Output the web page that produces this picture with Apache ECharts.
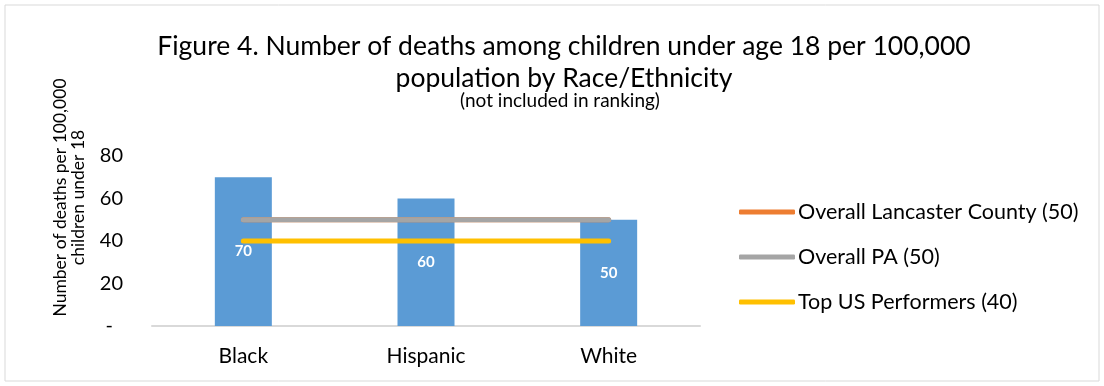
<!DOCTYPE html>
<html>
<head>
<meta charset="utf-8">
<script src="https://cdn.jsdelivr.net/npm/echarts@6/dist/echarts.min.js"></script>
<style>
  html, body { margin: 0; padding: 0; background: #fff; }
  #chart { width: 1104px; height: 386px; }
</style>
</head>
<body>
<div id="chart"></div>
<script>
// data
const categories = ['Black', 'Hispanic', 'White'];
const deathRates = [70, 60, 50];
const lancaster = [50, 50, 50];
const overallPA = [50, 50, 50];
const topUS = [40, 40, 40];
const yTicks = { min: 0, max: 80, interval: 20 };

const FONT = 'Lato, "Open Sans", sans-serif';

const myChart = echarts.init(document.getElementById('chart'));

const lineSeries = (name, data, color) => ({
  name: name,
  type: 'line',
  data: data,
  symbol: 'none',
  lineStyle: { width: 5, color: color, cap: 'round' },
  itemStyle: { color: color },
  z: 3
});

const options = {
  animation: false,
  textStyle: { fontFamily: FONT },
  graphic: [
    // outer frame
    {
      type: 'rect',
      shape: { x: 5, y: 5, width: 1094, height: 376 },
      style: { fill: 'none', stroke: '#d9d9d9', lineWidth: 1 }
    },
    {
      type: 'text', x: 564, y: 46,
      style: {
        text: 'Figure 4. Number of deaths among children under age 18 per 100,000',
        font: '26.5px ' + FONT, fill: '#000', align: 'center', verticalAlign: 'middle'
      }
    },
    {
      type: 'text', x: 564, y: 78,
      style: {
        text: 'population by Race/Ethnicity',
        font: '26.5px ' + FONT, fill: '#000', align: 'center', verticalAlign: 'middle'
      }
    },
    {
      type: 'text', x: 560, y: 101,
      style: {
        text: '(not included in ranking)',
        font: '19px ' + FONT, fill: '#000', align: 'center', verticalAlign: 'middle'
      }
    },
    // y axis name
    {
      type: 'text', x: 69.5, y: 197.5, rotation: Math.PI / 2,
      style: {
        text: 'Number of deaths per 100,000\nchildren under 18',
        font: '17.5px ' + FONT, fill: '#000', align: 'center', verticalAlign: 'middle',
        lineHeight: 17.6
      }
    }
  ],
  legend: {
    data: ['Overall Lancaster County (50)', 'Overall PA (50)', 'Top US Performers (40)'],
    orient: 'vertical',
    left: 734,
    top: 195,
    icon: 'roundRect',
    itemWidth: 56,
    itemHeight: 5,
    itemGap: 21,
    textStyle: { fontSize: 21.5, color: '#000', fontFamily: FONT, lineHeight: 24, padding: [0, 0, 0, -2] }
  },
  grid: { left: 152, right: 404, top: 156, bottom: 60, containLabel: false },
  xAxis: {
    type: 'category',
    data: categories,
    axisLine: { lineStyle: { color: '#d9d9d9', width: 2 } },
    axisTick: { show: false },
    axisLabel: { fontSize: 21, color: '#000', margin: 20, fontFamily: FONT }
  },
  yAxis: {
    type: 'value',
    min: yTicks.min,
    max: yTicks.max,
    interval: yTicks.interval,
    splitLine: { show: false },
    axisLine: { show: false },
    axisTick: { show: false },
    axisLabel: {
      fontSize: 20, color: '#000', margin: 29, fontFamily: FONT,
      formatter: v => (v === 0 ? '{d|-}' : v),
      rich: { d: { fontSize: 20, fontFamily: FONT, color: '#000', padding: [0, 10, 0, 0] } }
    }
  },
  series: [
    {
      name: 'Deaths per 100,000',
      type: 'bar',
      data: deathRates,
      barWidth: 57,
      itemStyle: { color: '#5b9bd5' },
      label: {
        show: true,
        position: 'inside',
        color: '#fff',
        fontWeight: 'bold',
        fontSize: 15,
        fontFamily: FONT
      },
      z: 2
    },
    lineSeries('Overall Lancaster County (50)', lancaster, '#ed7d31'),
    lineSeries('Overall PA (50)', overallPA, '#a5a5a5'),
    lineSeries('Top US Performers (40)', topUS, '#ffc000')
  ]
};

myChart.setOption(options);
</script>
</body>
</html>
